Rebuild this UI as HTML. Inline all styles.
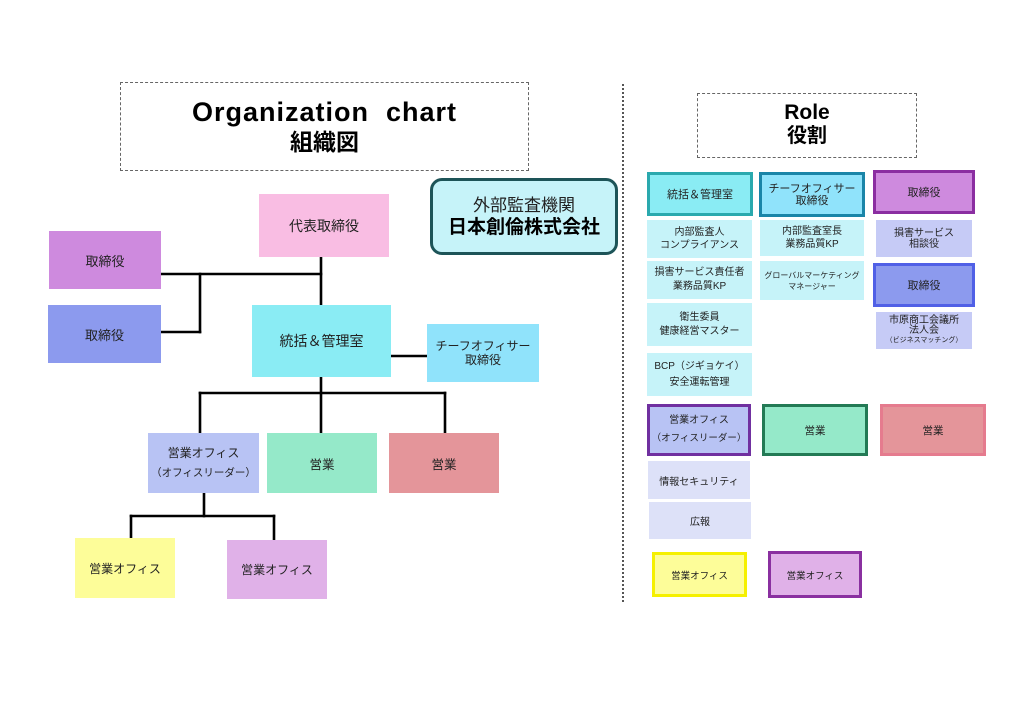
<!DOCTYPE html>
<html><head><meta charset="utf-8">
<style>
html,body{margin:0;padding:0;background:#fff;}
body{width:1024px;height:724px;position:relative;overflow:hidden;font-family:"Liberation Sans","Noto Sans CJK JP",sans-serif;color:#222;}
.b{position:absolute;box-sizing:border-box;display:flex;flex-direction:column;align-items:center;justify-content:center;text-align:center;white-space:nowrap;}
.t{position:absolute;text-align:center;white-space:pre;font-weight:bold;color:#000;}
</style></head><body>

<!-- divider -->
<div style="position:absolute;left:622px;top:84px;width:0;height:518px;border-left:2px dotted #555;"></div>

<!-- title box left -->
<div style="position:absolute;left:120px;top:82px;width:409px;height:89px;box-sizing:border-box;border:1px dashed #666;"></div>
<div class="t" style="left:120px;width:409px;top:97px;font-size:27px;line-height:30px;letter-spacing:1px;">Organization  chart</div>
<div class="t" style="left:120px;width:409px;top:128px;font-size:23px;line-height:28px;">組織図</div>

<!-- external audit -->
<div class="b" style="left:430px;top:178px;width:188px;height:77px;background:#c6f3f9;border:3px solid #1d5458;border-radius:12px;">
<div style="font-size:17px;line-height:21px;color:#222;">外部監査機関</div>
<div style="font-size:19px;line-height:23px;font-weight:bold;color:#000;">日本創倫株式会社</div>
</div>

<!-- connector lines -->
<svg style="position:absolute;left:0;top:0;" width="1024" height="724">
<g stroke="#000" stroke-width="2.6" fill="none" stroke-linecap="square">
<line x1="321" y1="257" x2="321" y2="305"/>
<line x1="161" y1="274" x2="321" y2="274"/>
<line x1="200" y1="274" x2="200" y2="332"/>
<line x1="161" y1="332" x2="200" y2="332"/>
<line x1="391" y1="356" x2="427" y2="356"/>
<line x1="321" y1="377" x2="321" y2="432"/>
<line x1="200" y1="393" x2="445" y2="393"/>
<line x1="200" y1="393" x2="200" y2="433"/>
<line x1="445" y1="393" x2="445" y2="432"/>
<line x1="204" y1="493" x2="204" y2="516"/>
<line x1="131" y1="516" x2="274" y2="516"/>
<line x1="131" y1="516" x2="131" y2="538"/>
<line x1="274" y1="516" x2="274" y2="540"/>
</g>
</svg>

<!-- left org chart boxes -->
<div class="b" style="left:259px;top:194px;width:130px;height:63px;background:#f9bde3;font-size:14px;">代表取締役</div>
<div class="b" style="left:49px;top:231px;width:112px;height:58px;background:#ce8ade;font-size:13px;">取締役</div>
<div class="b" style="left:48px;top:305px;width:113px;height:58px;background:#8c9aee;font-size:13px;">取締役</div>
<div class="b" style="left:252px;top:305px;width:139px;height:72px;background:#8aecf4;font-size:14px;">統括＆管理室</div>
<div class="b" style="left:427px;top:324px;width:112px;height:58px;background:#90e3fb;font-size:12px;line-height:14px;"><div>チーフオフィサー</div><div>取締役</div></div>

<div class="b" style="left:148px;top:433px;width:111px;height:60px;background:#b8c3f4;"><div style="font-size:12px;line-height:20px;">営業オフィス</div><div style="font-size:10.5px;line-height:20px;">（オフィスリーダー）</div></div>
<div class="b" style="left:267px;top:433px;width:110px;height:60px;background:#95e9c9;font-size:12.5px;">営業</div>
<div class="b" style="left:389px;top:433px;width:110px;height:60px;background:#e4959a;font-size:12.5px;">営業</div>
<div class="b" style="left:75px;top:538px;width:100px;height:60px;background:#fdfd99;font-size:12px;">営業オフィス</div>
<div class="b" style="left:227px;top:540px;width:100px;height:59px;background:#e0b1e8;font-size:12px;">営業オフィス</div>

<!-- Role title -->
<div style="position:absolute;left:697px;top:93px;width:220px;height:65px;box-sizing:border-box;border:1px dashed #666;"></div>
<div class="t" style="left:697px;width:220px;top:101px;font-size:21px;line-height:24px;">Role</div>
<div class="t" style="left:697px;width:220px;top:124px;font-size:20px;line-height:25px;">役割</div>

<!-- Role column 1 -->
<div class="b" style="left:647px;top:172px;width:106px;height:44px;background:#8aecf4;border:3px solid #2aa9ae;font-size:11px;">統括＆管理室</div>
<div class="b" style="left:647px;top:220px;width:105px;height:38px;background:#c6f3f9;font-size:10px;line-height:13px;"><div>内部監査人</div><div>コンプライアンス</div></div>
<div class="b" style="left:647px;top:261px;width:105px;height:38px;background:#c6f3f9;font-size:10px;line-height:14px;"><div>損害サービス責任者</div><div>業務品質KP</div></div>
<div class="b" style="left:647px;top:303px;width:105px;height:43px;background:#c6f3f9;font-size:10px;line-height:14px;"><div>衛生委員</div><div>健康経営マスター</div></div>
<div class="b" style="left:647px;top:353px;width:105px;height:43px;background:#c6f3f9;font-size:10px;line-height:16px;"><div>BCP（ジギョケイ）</div><div>安全運転管理</div></div>

<!-- Role column 2 -->
<div class="b" style="left:759px;top:172px;width:106px;height:45px;background:#90e3fb;border:3px solid #1a85a8;font-size:11px;line-height:12px;"><div>チーフオフィサー</div><div>取締役</div></div>
<div class="b" style="left:760px;top:220px;width:104px;height:36px;background:#c6f3f9;font-size:10px;line-height:13px;"><div>内部監査室長</div><div>業務品質KP</div></div>
<div class="b" style="left:760px;top:261px;width:104px;height:39px;background:#c6f3f9;font-size:8px;line-height:11px;"><div>グローバルマーケティング</div><div>マネージャー</div></div>

<!-- Role column 3 -->
<div class="b" style="left:873px;top:170px;width:102px;height:44px;background:#ce8ade;border:3px solid #8b2ea1;font-size:11px;">取締役</div>
<div class="b" style="left:876px;top:220px;width:96px;height:37px;background:#c6cbf6;font-size:10px;line-height:11px;"><div>損害サービス</div><div>相談役</div></div>
<div class="b" style="left:873px;top:263px;width:102px;height:44px;background:#8c9aee;border:3px solid #5060e6;font-size:11px;">取締役</div>
<div class="b" style="left:876px;top:312px;width:96px;height:37px;background:#c6cbf6;"><div style="font-size:10px;line-height:10px;">市原商工会議所</div><div style="font-size:10px;line-height:10px;">法人会</div><div style="font-size:7px;line-height:9px;">（ビジネスマッチング）</div></div>

<!-- Role bottom -->
<div class="b" style="left:647px;top:404px;width:104px;height:52px;background:#b8c3f4;border:3px solid #7030a0;font-size:10px;line-height:18px;"><div>営業オフィス</div><div style="font-size:9.5px;">（オフィスリーダー）</div></div>
<div class="b" style="left:762px;top:404px;width:106px;height:52px;background:#95e9c9;border:3px solid #237a55;font-size:10.5px;">営業</div>
<div class="b" style="left:880px;top:404px;width:106px;height:52px;background:#e4959a;border:3px solid #e57b8e;font-size:10.5px;">営業</div>
<div class="b" style="left:648px;top:461px;width:102px;height:38px;background:#dde1f8;font-size:10px;">情報セキュリティ</div>
<div class="b" style="left:649px;top:502px;width:102px;height:37px;background:#dde1f8;font-size:10px;">広報</div>
<div class="b" style="left:652px;top:552px;width:95px;height:45px;background:#fdfd99;border:3px solid #f5f000;font-size:9.5px;">営業オフィス</div>
<div class="b" style="left:768px;top:551px;width:94px;height:47px;background:#e0b1e8;border:3px solid #8a30a0;font-size:9.5px;">営業オフィス</div>

</body></html>
